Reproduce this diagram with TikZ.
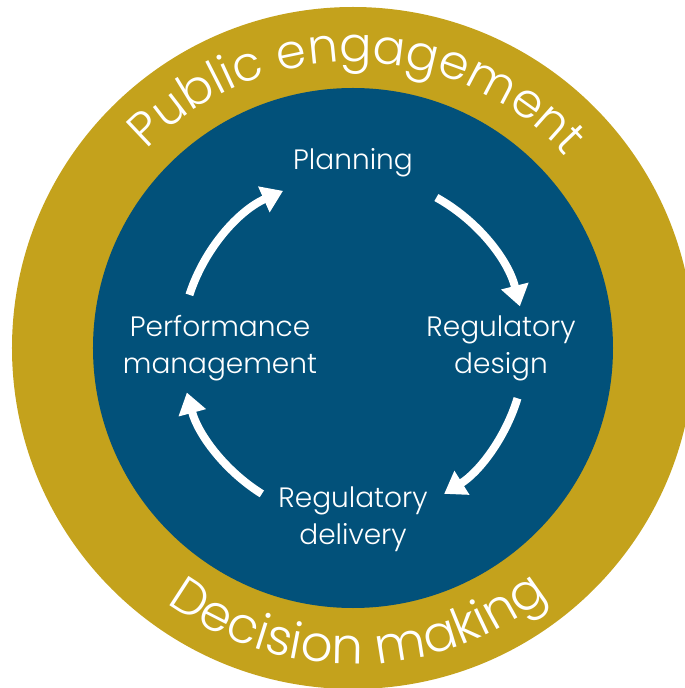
\documentclass[tikz,border=0pt]{standalone}
\usepackage{fontspec}
\setmainfont{Poppins Light}
\usetikzlibrary{arrows.meta,decorations.text}
\definecolor{ringgold}{HTML}{C4A21C}
\definecolor{coreblue}{HTML}{02517A}

\begin{document}
\begin{tikzpicture}[x=1pt,y=1pt,
  stage/.style={text=white,align=center,font=\fontsize{28}{37}\selectfont},
  cycle/.style={white,line width=8pt,-{Triangle[width=27pt,length=21pt]}}]
\useasboundingbox (-353,-340) rectangle (332,348);
\fill[ringgold] (0,0) circle (341);
\fill[coreblue] (0,0) circle (260);

\node[stage] (plan) at (0,185) {Planning};
\node[stage] (design) at (148,0) {Regulatory\\design};
\node[stage] (delivery) at (0,-171) {Regulatory\\delivery};
\node[stage] (perf) at (-133,0) {Performance\\management};

\coordinate (perfout) at (162:172);
\coordinate (planout) at (61:172);
\coordinate (designout) at (-17:172);
\coordinate (deliveryout) at (-122:172);

\draw[cycle] (perfout) arc[start angle=162,end angle=114,radius=172];
\draw[cycle] (planout) arc[start angle=61,end angle=14,radius=172];
\draw[cycle] (designout) arc[start angle=-17,end angle=-58,radius=172];
\draw[cycle] (deliveryout) arc[start angle=-122,end angle=-165,radius=172];

\path[decorate,decoration={text along path,text align=center,
  text={|\fontsize{48}{48}\selectfont\addfontfeature{LetterSpace=3}\color{white}|Public engagement}}]
  (178:286) arc[start angle=178,end angle=0,radius=286];
\path[decorate,decoration={text along path,text align=center,
  text={|\fontsize{50}{50}\selectfont\addfontfeature{LetterSpace=3}\color{white}|Decision making}}]
  (-178:316) arc[start angle=-178,end angle=0,radius=316];
\end{tikzpicture}
\end{document}
